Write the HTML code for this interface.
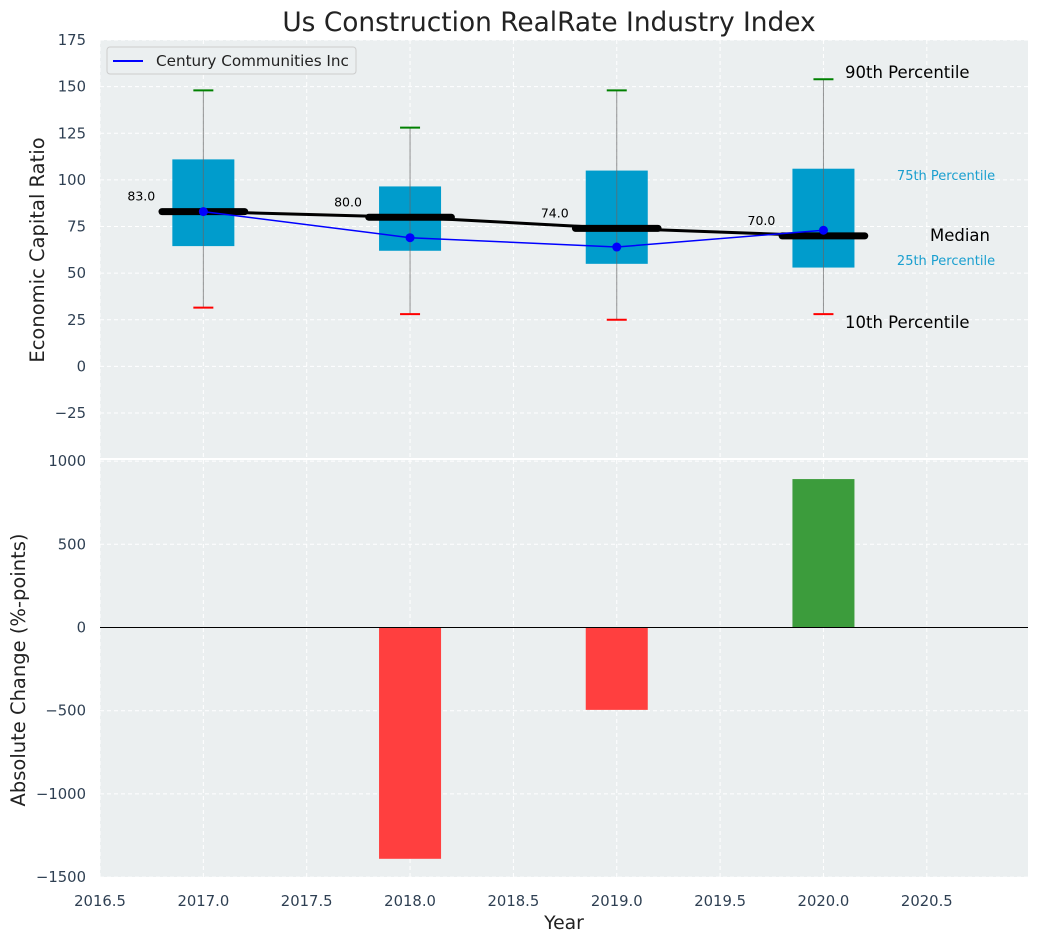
<!DOCTYPE html>
<html><head><meta charset="utf-8"><style>
body{margin:0;background:#fff;font-family:"DejaVu Sans","Liberation Sans",sans-serif}
svg text{font-family:"DejaVu Sans","Liberation Sans",sans-serif}
</style></head><body>
<svg id="chart" width="1039" height="942" xmlns="http://www.w3.org/2000/svg"></svg>
<script>
const years=[2017,2018,2019,2020];
const p90=[148,128,148,154];
const p75=[111,96.5,105,106];
const p25=[64.5,62,55,53];
const p10=[31.5,28,25,28];
const medians=[83,80,74,70];
const company=[83,69,64,73];
const changes=[0,-1390,-495,892];
const xTicks=[2016.5,2017.0,2017.5,2018.0,2018.5,2019.0,2019.5,2020.0,2020.5];
const yTopTicks=[-25,0,25,50,75,100,125,150,175];
const yBotTicks=[-1500,-1000,-500,0,500,1000];

const svg=document.getElementById('chart');
const NS='http://www.w3.org/2000/svg';
function mk(tag,attrs,parent){const e=document.createElementNS(NS,tag);for(const k in attrs)e.setAttribute(k,attrs[k]);(parent||svg).appendChild(e);return e;}
const L=100,R=1028;
const X=v=>L+(v-2016.5)*206.7;
const T0=40,T1=458,B0=460,B1=877;
const YT=v=>366.4-v*1.865;
const YB=v=>627.5-v*0.1664;
const tickCol='#2e3f52';
const TF=14.8;

let e=mk('rect',{x:L,y:T0,width:R-L,height:T1-T0,fill:'#ebeff0'});

e=mk('rect',{x:L,y:B0,width:R-L,height:B1-B0,fill:'#ebeff0'});


xTicks.forEach(t=>{
  [[T0,T1],[B0,B1]].forEach(([a,b])=>{
    const g=mk('line',{x1:X(t),x2:X(t),y1:a,y2:b,stroke:'#fff','stroke-dasharray':'4,3','stroke-width':1});
    
  });
  const tx=mk('text',{x:X(t),y:906,'text-anchor':'middle','font-size':TF,fill:tickCol});
  tx.textContent=t.toFixed(1);
  
});
yTopTicks.forEach(t=>{
  const g=mk('line',{x1:L,x2:R,y1:YT(t),y2:YT(t),stroke:'#fff','stroke-dasharray':'4,3'});
  
  const tx=mk('text',{x:86,y:YT(t)+5,'text-anchor':'end','font-size':TF,fill:tickCol});
  tx.textContent=t<0?'\u2212'+(-t):t;
  
});
yBotTicks.forEach(t=>{
  const g=mk('line',{x1:L,x2:R,y1:YB(t),y2:YB(t),stroke:'#fff','stroke-dasharray':'4,3'});
  
  const tx=mk('text',{x:86,y:YB(t)+5,'text-anchor':'end','font-size':TF,fill:tickCol});
  tx.textContent=t<0?'\u2212'+(-t):t;
  
});

years.forEach((yr,i)=>{
  const x=X(yr),w=0.3*206.7;
  let b=mk('rect',{x:x-w/2,y:YT(p75[i]),width:w,height:YT(p25[i])-YT(p75[i]),fill:'#009ccc'});
  
  let l=mk('line',{x1:x,x2:x,y1:YT(p90[i]),y2:YT(p10[i]),stroke:'#666','stroke-opacity':0.7,'stroke-width':1});
  
  l=mk('line',{x1:x-10,x2:x+10,y1:YT(p90[i]),y2:YT(p90[i]),stroke:'green','stroke-width':2});
  
  l=mk('line',{x1:x-10,x2:x+10,y1:YT(p10[i]),y2:YT(p10[i]),stroke:'red','stroke-width':2});
  
});
let pts=years.map((yr,i)=>X(yr)+','+YT(medians[i])).join(' ');
e=mk('polyline',{points:pts,fill:'none',stroke:'#000','stroke-width':3});

years.forEach((yr,i)=>{
  const x=X(yr),y=YT(medians[i]);
  let l=mk('line',{x1:x-0.2*206.7,x2:x+0.2*206.7,y1:y,y2:y,stroke:'#000','stroke-width':7,'stroke-linecap':'round'});
  
  let t=mk('text',{x:X(yr-0.3),y:YT(medians[i]+8)+4,'text-anchor':'middle','font-size':12.5,fill:'#000'});
  t.textContent=medians[i].toFixed(1);
  
});
pts=years.map((yr,i)=>X(yr)+','+YT(company[i])).join(' ');
e=mk('polyline',{points:pts,fill:'none',stroke:'#0000ff','stroke-width':1.5});

years.forEach((yr,i)=>{
  const c=mk('circle',{cx:X(yr),cy:YT(company[i]),r:4.5,fill:'#0000ff'});
  
});
const ann=[['90th Percentile',845,78,16.5,'#000','start'],['10th Percentile',845,328,16.5,'#000','start'],['75th Percentile',946,180,13,'#1a9fcf','middle'],['25th Percentile',946,265,13,'#1a9fcf','middle'],['Median',960,241,16.5,'#000','middle']];
ann.forEach(a=>{
  const t=mk('text',{x:a[1],y:a[2],'font-size':a[3],fill:a[4],'text-anchor':a[5]});
  t.textContent=a[0];
  
});
const lg=mk('g',{});

mk('rect',{x:107,y:47,width:249,height:27,rx:3,fill:'#ebeff0',stroke:'#ccc'},lg);
mk('line',{x1:113,x2:143,y1:61,y2:61,stroke:'#0000ff','stroke-width':2},lg);
e=mk('text',{x:156,y:66,'font-size':15.2,fill:'#222'},lg);e.textContent='Century Communities Inc';


years.forEach((yr,i)=>{
  const x=X(yr),w=0.3*206.7,v=changes[i];
  const y=Math.min(YB(v),YB(0)),h=Math.abs(YB(v)-YB(0));
  const b=mk('rect',{x:x-w/2,y:y,width:w,height:h,fill:v>=0?'#3c9c3c':'#ff3f3f'});
  
});
e=mk('line',{x1:L,x2:R,y1:YB(0),y2:YB(0),stroke:'#000','stroke-width':1});


e=mk('text',{x:549,y:31,'text-anchor':'middle','font-size':26.4,fill:'#222'});e.textContent='Us Construction RealRate Industry Index';

e=mk('text',{x:564,y:929,'text-anchor':'middle','font-size':18.8,fill:'#222'});e.textContent='Year';

e=mk('text',{x:0,y:0,'text-anchor':'middle','font-size':19.5,fill:'#222',transform:'translate(44,250) rotate(-90)'});e.textContent='Economic Capital Ratio';

e=mk('text',{x:0,y:0,'text-anchor':'middle','font-size':19.5,fill:'#222',transform:'translate(25,670) rotate(-90)'});e.textContent='Absolute Change (%-points)';

</script>
</body></html>
